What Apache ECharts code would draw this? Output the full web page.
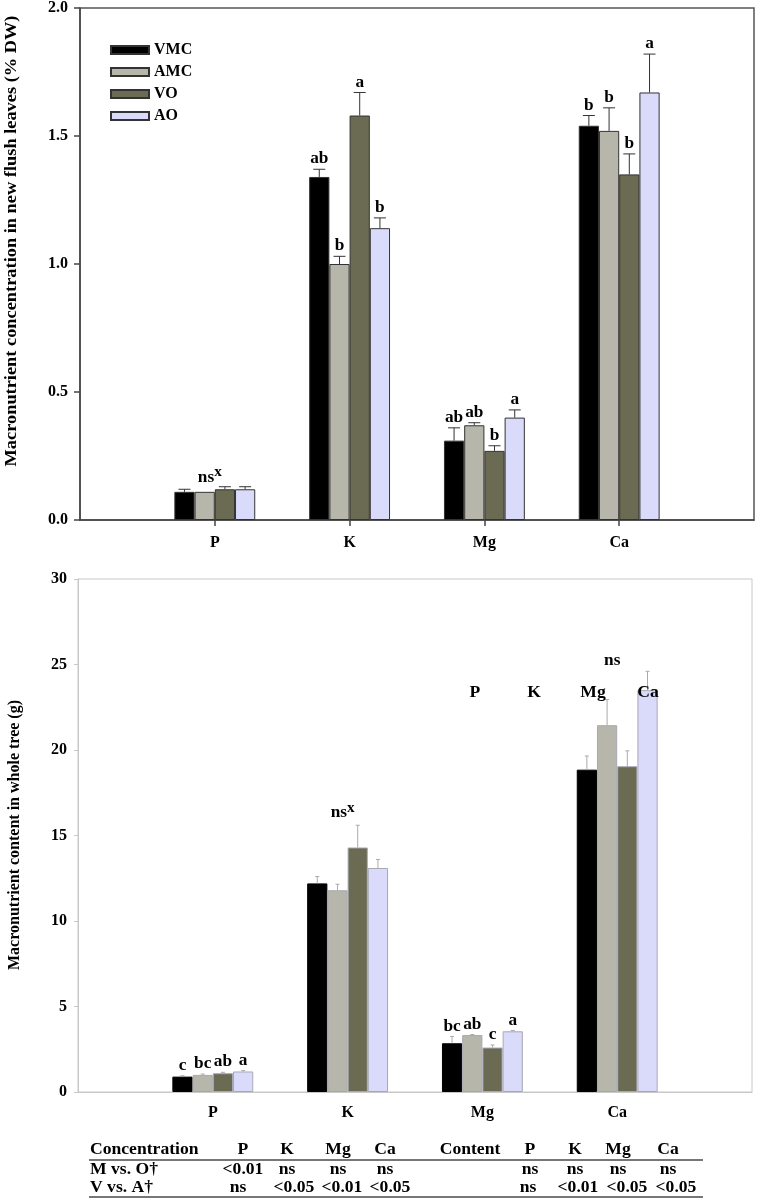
<!DOCTYPE html>
<html>
<head>
<meta charset="utf-8">
<script src="https://cdn.jsdelivr.net/npm/echarts@6/dist/echarts.min.js"></script>
<style>
  html, body { margin: 0; padding: 0; background: #fff; }
  #main { width: 757px; height: 1199px; }
</style>
</head>
<body>
<div id="main"></div>
<script>
const elements = ['P', 'K', 'Mg', 'Ca'];
const treatments = ['VMC', 'AMC', 'VO', 'AO'];
const colors = ['#000000', '#b6b6aa', '#6b6b53', '#dadafa'];

// macronutrient concentration in new flush leaves (% DW)
const concVMC = [0.11, 1.34, 0.31, 1.54];
const concAMC = [0.11, 1.00, 0.37, 1.52];
const concVO = [0.12, 1.58, 0.27, 1.35];
const concAO = [0.12, 1.14, 0.40, 1.67];
// top of the error bars
const concErrVMC = [0.12, 1.37, 0.36, 1.58];
const concErrAMC = [0.11, 1.03, 0.38, 1.61];
const concErrVO = [0.13, 1.67, 0.29, 1.43];
const concErrAO = [0.13, 1.18, 0.43, 1.82];
const concLetVMC = ['', 'ab', 'ab', 'b'];
const concLetAMC = ['', 'b', 'ab', 'b'];
const concLetVO = ['', 'a', 'b', 'b'];
const concLetAO = ['', 'b', 'a', 'a'];

// macronutrient content in whole tree (g)
const contVMC = [0.9, 12.2, 2.85, 18.85];
const contAMC = [1.0, 11.8, 3.33, 21.45];
const contVO = [1.1, 14.3, 2.6, 19.05];
const contAO = [1.2, 13.1, 3.55, 23.5];
const contErrVMC = [0.95, 12.6, 3.25, 19.65];
const contErrAMC = [1.05, 12.15, 3.36, 22.95];
const contErrVO = [1.15, 15.6, 2.75, 19.95];
const contErrAO = [1.25, 13.6, 3.6, 24.6];
const contLetVMC = ['c', '', 'bc', ''];
const contLetAMC = ['bc', '', 'ab', ''];
const contLetVO = ['ab', '', 'c', ''];
const contLetAO = ['a', '', 'a', ''];

// group notes: [element index, value, text, superscript]
const concNotes = [[0, 0.165, 'ns', 'x']];
const contNotes = [[1, 16.3, 'ns', 'x'], [3, 25.2, 'ns', '']];

// significance table
const tableHeader = ['Concentration', 'P', 'K', 'Mg', 'Ca', 'Content', 'P', 'K', 'Mg', 'Ca'];
const rowMO = ['M vs. O\u2020', '<0.01', 'ns', 'ns', 'ns', '', 'ns', 'ns', 'ns', 'ns'];
const rowVA = ['V vs. A\u2020', 'ns', '<0.05', '<0.01', '<0.05', '', 'ns', '<0.01', '<0.05', '<0.05'];

const FONT = 'Liberation Serif';
const cats = [''].concat(elements, [' ']);
const pad = arr => ['-'].concat(arr, ['-']);

const concVals = [concVMC, concAMC, concVO, concAO];
const concErrs = [concErrVMC, concErrAMC, concErrVO, concErrAO];
const concLets = [concLetVMC, concLetAMC, concLetVO, concLetAO];
const contVals = [contVMC, contAMC, contVO, contAO];
const contErrs = [contErrVMC, contErrAMC, contErrVO, contErrAO];
const contLets = [contLetVMC, contLetAMC, contLetVO, contLetAO];

function errData(vals, errs) {
    const out = [];
    vals.forEach((v, i) => v.forEach((val, j) => out.push([j + 1, val, errs[i][j], i])));
    return out;
}
function letData(lets) {
    const out = [];
    lets.forEach(l => l.forEach(t => out.push(t)));
    return out;
}

function errSeries(gi, vals, errs, lets, lineColor, capHalf) {
    const letters = letData(lets);
    return {
        type: 'custom',
        xAxisIndex: gi, yAxisIndex: gi,
        silent: true,
        z: 5,
        data: errData(vals, errs),
        renderItem: (params, api) => {
            const cat = api.value(0), val = api.value(1), err = api.value(2), idx = api.value(3);
            const band = api.size([1, 0])[0];
            const bw = band * 0.6 / 4;
            const base = api.coord([cat, val]);
            const x = base[0] + (idx - 1.5) * bw;
            const yTop = api.coord([cat, err])[1];
            const children = [];
            if (err > val) {
                children.push({type: 'line', shape: {x1: x, y1: base[1], x2: x, y2: yTop},
                    style: {stroke: lineColor, lineWidth: 1}});
                children.push({type: 'line', shape: {x1: x - capHalf, y1: yTop, x2: x + capHalf, y2: yTop},
                    style: {stroke: lineColor, lineWidth: 1}});
            }
            const t = letters[params.dataIndex];
            if (t) {
                children.push({type: 'text', x: x, y: yTop - 2, scaleX: 1.08,
                    style: {text: t, textAlign: 'center', textVerticalAlign: 'bottom',
                        font: 'bold 16px "' + FONT + '"', fill: '#000'}});
            }
            return {type: 'group', children: children};
        }
    };
}

function noteSeries(gi, notes) {
    return {
        type: 'custom',
        xAxisIndex: gi, yAxisIndex: gi,
        silent: true,
        z: 6,
        data: notes.map(n => [n[0] + 1, n[1]]),
        renderItem: (params, api) => {
            const p = api.coord([api.value(0), api.value(1)]);
            const n = notes[params.dataIndex];
            return {type: 'text', x: p[0] - 5, y: p[1], scaleX: 1.08,
                style: {text: '{a|' + n[2] + '}' + (n[3] ? '{b|' + n[3] + '}' : ''),
                    textAlign: 'center', textVerticalAlign: 'middle',
                    rich: {
                        a: {fontFamily: FONT, fontWeight: 'bold', fontSize: 16, color: '#000'},
                        b: {fontFamily: FONT, fontWeight: 'bold', fontSize: 14, color: '#000', padding: [0, 0, 10, 0]}
                    }}};
        }
    };
}

const labelStyle = {fontFamily: FONT, fontWeight: 'bold', fontSize: 16, color: '#000'};
const tickShow = i => i > 0 && i < cats.length - 1;

const series = [];
treatments.forEach((name, i) => {
    series.push({
        name: name, type: 'bar', xAxisIndex: 0, yAxisIndex: 0,
        barGap: '0%', barCategoryGap: '40%',
        data: pad(concVals[i]),
        itemStyle: {color: colors[i], borderColor: '#333', borderWidth: 1}
    });
});
treatments.forEach((name, i) => {
    series.push({
        name: name, type: 'bar', xAxisIndex: 1, yAxisIndex: 1,
        barGap: '0%', barCategoryGap: '40%',
        data: pad(contVals[i]),
        itemStyle: {color: colors[i], borderColor: i === 0 ? colors[0] : '#a8a8b4', borderWidth: 1}
    });
});
series.push(errSeries(0, concVals, concErrs, concLets, '#333', 6));
series.push(errSeries(1, contVals, contErrs, contLets, '#aaaaaa', 2));
series.push(noteSeries(0, concNotes));
series.push(noteSeries(1, contNotes));

// table graphics
const colX = [90, 243, 287, 338, 385, 470, 530, 575, 618, 668];
const rowXVA = [90, 238, 294, 342, 390, 0, 528, 578, 627, 676];
const graphics = [];
function tText(t, x, y, left) {
    if (!t) return;
    graphics.push({type: 'text', x: x, y: y, z: 100, scaleX: 1.1,
        style: {text: t, textAlign: left ? 'left' : 'center', textVerticalAlign: 'middle',
            font: 'bold 16px "' + FONT + '"', fill: '#000'}});
}
tableHeader.forEach((t, i) => tText(t, colX[i], 1150, i === 0));
rowMO.forEach((t, i) => tText(t, colX[i], 1170, i === 0));
rowVA.forEach((t, i) => tText(t, rowXVA[i], 1188, i === 0));
[1160, 1197].forEach(y => graphics.push({type: 'line',
    shape: {x1: 89, y1: y, x2: 703, y2: y}, style: {stroke: '#777', lineWidth: 2}}));

// axis titles
graphics.push({type: 'text', x: 12, y: 241, rotation: Math.PI / 2, scaleX: 1.08,
    style: {text: 'Macronutrient concentration in new flush leaves (% DW)', textAlign: 'center',
        textVerticalAlign: 'middle', font: 'bold 17px "' + FONT + '"', fill: '#000'}});
graphics.push({type: 'text', x: 15, y: 835, rotation: Math.PI / 2,
    style: {text: 'Macronutrient content in whole tree (g)', textAlign: 'center',
        textVerticalAlign: 'middle', font: 'bold 16px "' + FONT + '"', fill: '#000'}});

// stray element header inside lower panel, drawn above the bars
[['P', 475], ['K', 534], ['Mg', 593], ['Ca', 648]].forEach(d => tText(d[0], d[1], 693, false));

const option = {
    animation: false,
    backgroundColor: '#fff',
    legend: {
        data: treatments.map(n => ({name: n, icon: 'rect'})),
        orient: 'vertical', left: 105, top: 37,
        itemWidth: 38, itemHeight: 8, itemGap: 6,
        selectedMode: false,
        textStyle: {fontFamily: FONT, fontWeight: 'bold', fontSize: 16, color: '#000'}
    },
    grid: [
        {left: 80, right: 3, top: 8, height: 512, show: true, borderColor: '#555', borderWidth: 1.5},
        {left: 78, right: 5, top: 579, height: 513, show: true, borderColor: '#c8c8c8', borderWidth: 1}
    ],
    xAxis: [
        {type: 'category', gridIndex: 0, data: cats, boundaryGap: false,
            axisLine: {lineStyle: {color: '#444', width: 1.5}},
            axisTick: {show: true, interval: tickShow, length: 6, lineStyle: {color: '#444', width: 1.5}},
            axisLabel: Object.assign({interval: tickShow, margin: 15}, labelStyle),
            splitLine: {show: false}},
        {type: 'category', gridIndex: 1, data: cats, boundaryGap: false,
            axisLine: {lineStyle: {color: '#c8c8c8', width: 1}},
            axisTick: {show: false},
            axisLabel: Object.assign({interval: tickShow, margin: 13}, labelStyle),
            splitLine: {show: false}}
    ],
    yAxis: [
        {type: 'value', gridIndex: 0, min: 0, max: 2, interval: 0.5,
            axisLine: {show: true, lineStyle: {color: '#444', width: 1.5}},
            axisTick: {show: true, length: 6, lineStyle: {color: '#444', width: 1.5}},
            axisLabel: Object.assign({margin: 12, formatter: v => v.toFixed(1)}, labelStyle),
            splitLine: {show: false}},
        {type: 'value', gridIndex: 1, min: 0, max: 30, interval: 5,
            axisLine: {show: true, lineStyle: {color: '#c8c8c8', width: 1}},
            axisTick: {show: true, length: 4, lineStyle: {color: '#c8c8c8'}},
            axisLabel: Object.assign({margin: 11}, labelStyle),
            splitLine: {show: false}}
    ],
    graphic: graphics,
    series: series
};

const chart = echarts.init(document.getElementById('main'));
chart.setOption(option);
</script>
</body>
</html>
